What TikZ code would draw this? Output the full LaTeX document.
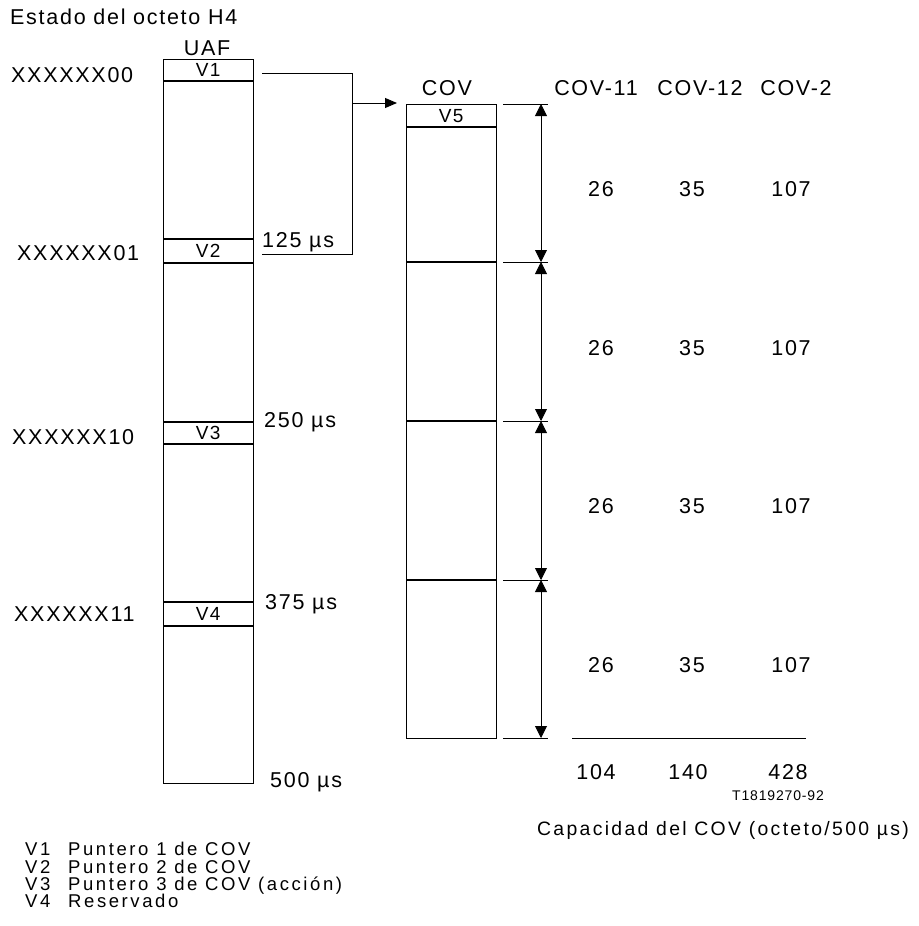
\documentclass[tikz,border=0pt]{standalone}
\usepackage{fontspec}
\setmainfont{Liberation Sans}[LetterSpace=8]
\newfontfamily\legf{Liberation Sans}[LetterSpace=14]
\newfontfamily\capf{Liberation Sans}[LetterSpace=12]
\newfontfamily\codef{Liberation Sans}[LetterSpace=6]
\usetikzlibrary{arrows.meta}
\begin{document}
\begin{tikzpicture}[x=1pt,y=-1pt,
  lbl/.style={inner sep=0pt, font=\fontsize{21.5}{25}\selectfont},
  lbll/.style={lbl, anchor=west},
  frame/.style={draw, line width=1.2pt, inner sep=0pt},
  vrow/.style={inner sep=0pt, minimum width=90pt, anchor=north west, font=\fontsize{19}{22}\selectfont},
  divider/.style={line width=2pt},
  thinl/.style={line width=0.9pt},
  dim/.style={thinl, {Triangle[length=12pt,width=12pt]}-{Triangle[length=12pt,width=12pt]}},
]
\useasboundingbox (0,0) rectangle (918,926);

% UAF frame
\node[frame, minimum width=90pt, minimum height=724pt, anchor=north west] (uaf) at (163,59) {};
\node[vrow, minimum height=22pt] (v1) at (163,59) {V1};
\node[vrow, minimum height=24pt] (v2) at (163,239) {V2};
\node[vrow, minimum height=22pt] (v3) at (163,422) {V3};
\node[vrow, minimum height=24pt] (v4) at (163,602) {V4};
\draw[divider] (v1.south west) -- (v1.south east);
\foreach \v in {v2,v3,v4}{
  \draw[divider] (\v.north west) -- (\v.north east);
  \draw[divider] (\v.south west) -- (\v.south east);
}

% COV frame
\node[frame, minimum width=90pt, minimum height=634pt, anchor=north west] (cov) at (406,104) {};
\node[vrow, minimum height=23pt] (v5) at (406,104) {V5};
\draw[divider] (v5.south west) -- (v5.south east);
\coordinate (d1) at (406,262);
\coordinate (d2) at (406,421);
\coordinate (d3) at (406,580);
\foreach \d in {d1,d2,d3}{
  \draw[divider] (cov.west |- \d) -- (cov.east |- \d);
}

% bracket and arrow from UAF to COV
\coordinate (b1) at (262,73);
\coordinate (b2) at (352,73);
\coordinate (b3) at (352,254);
\coordinate (b4) at (262,254);
\coordinate (b5) at (352,103);
\draw[thinl] (b1) -- (b2) -- (b3) -- (b4);
\draw[thinl, -{Triangle[length=12pt,width=10pt]}, shorten >=9pt] (b5) -- (cov.west |- b5);

% dimension lines
\foreach \i/\y in {0/104,1/262,2/421,3/580,4/738}{
  \coordinate (e\i) at (503,\y);
  \coordinate (a\i) at (541,\y);
  \draw[thinl] (e\i) -- ++(45,0);
}
\draw[dim] (a0) -- (a1);
\draw[dim] (a1) -- (a2);
\draw[dim] (a2) -- (a3);
\draw[dim] (a3) -- (a4);

% bottom line
\coordinate (l1) at (572,738);
\coordinate (l2) at (806,738);
\draw[thinl] (l1) -- (l2);

% labels left
\node[lbll] (est) at (10,17) {Estado del octeto H4};
\node[lbl] (uaft) at (207,48) {UAF};
\node[lbll] (x00) at (11,75) {XXXXXX00};
\node[lbll] (x01) at (17,253) {XXXXXX01};
\node[lbll] (x10) at (12,437) {XXXXXX10};
\node[lbll] (x11) at (14,614) {XXXXXX11};

\node[lbll] (t125) at (262,242) {125 µs};
\node[lbll] (t250) at (264,422) {250 µs};
\node[lbll] (t375) at (265,604) {375 µs};
\node[lbll] (t500) at (270,782) {500 µs};

% labels right
\node[lbl] (covt) at (447,88) {COV};
\node[lbl] (c11) at (596,88) {COV-11};
\node[lbl] (c12) at (700,88) {COV-12};
\node[lbl] (c2) at (796,88) {COV-2};

\foreach \r/\y in {1/189,2/348,3/506,4/665}{
  \node[lbl] (n\r a) at (601,\y) {26};
  \node[lbl] (n\r b) at (692,\y) {35};
  \node[lbl] (n\r c) at (791,\y) {107};
}

\node[lbl] (s1) at (596,772) {104};
\node[lbl] (s2) at (688,772) {140};
\node[lbl] (s3) at (788,772) {428};
\node[inner sep=0pt, font=\codef\fontsize{14}{16}\selectfont] (code) at (778,796) {T1819270-92};
\node[inner sep=0pt, font=\capf\fontsize{19.4}{22}\selectfont] (capt) at (723,830) {Capacidad del COV (octeto/500 µs)};

% legend
\node[inner sep=0pt, anchor=north west, align=left, font=\legf\fontsize{18.5}{17.4}\selectfont] (leg) at (25,842)
  {\makebox[43pt][l]{V1}Puntero 1 de COV\\
   \makebox[43pt][l]{V2}Puntero 2 de COV\\
   \makebox[43pt][l]{V3}Puntero 3 de COV (acción)\\
   \makebox[43pt][l]{V4}Reservado};
\end{tikzpicture}
\end{document}
